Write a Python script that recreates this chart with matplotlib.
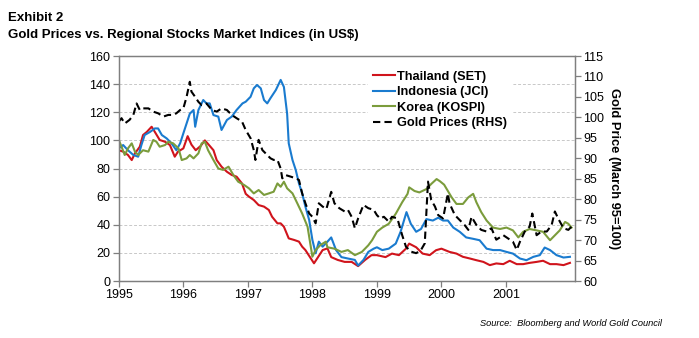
import numpy as np
import matplotlib
matplotlib.use("Agg")
import matplotlib.pyplot as plt

plt.rcParams['font.family'] = ['Liberation Sans', 'DejaVu Sans']

## Data (x = months since Jan 1995) ##
thai = [(0, 93), (0.8, 92), (1.7, 89.6), (2.4, 86), (3.0, 90.8), (3.9, 95.5), (4.5, 103.8),
        (5.2, 106), (6.1, 109.7), (6.7, 106), (7.6, 100.3), (8.6, 99), (9.5, 96.7), (10.4, 88.4),
        (11.0, 92), (12.0, 94.3), (12.8, 103), (13.5, 97), (14.3, 93), (15.2, 96), (16.0, 100),
        (16.7, 97), (17.6, 93), (18.2, 86), (19.1, 81.3), (20.1, 77.7), (21.0, 75.4), (21.9, 74.2),
        (22.9, 69.4), (23.6, 62), (24.2, 60), (25.1, 57.6), (26.0, 54), (27.0, 52.9), (27.9, 50.5),
        (28.5, 45.7), (29.5, 41), (30.1, 41), (30.7, 38.6), (31.6, 30.3), (32.6, 29.2), (33.5, 28),
        (34.1, 24.4), (34.7, 22), (35.7, 16.1), (36.3, 12.6), (36.9, 16.1), (37.9, 22), (38.8, 23.2),
        (39.5, 17), (40.7, 15), (42.0, 13.6), (43.3, 13.6), (44.5, 10.6), (45.8, 15), (47.0, 18.4),
        (48.0, 18.4), (49.6, 17), (50.8, 19.5), (52.1, 18.4), (53.4, 23), (54.0, 26.6), (55.3, 24),
        (56.5, 19.5), (57.8, 18.4), (59.0, 21.9), (60.0, 23), (61.5, 20.7), (62.8, 19.5), (64.0, 17.2),
        (65.3, 16), (66.5, 14.8), (67.8, 13.6), (69.0, 11.3), (70.2, 12.5), (71.5, 12), (72.7, 14.4),
        (74.0, 12), (75.2, 12), (76.4, 12.9), (77.7, 13.6), (78.9, 14.4), (80.2, 12), (81.4, 12),
        (82.7, 11.3), (83.9, 12.9)]

indo = [(0, 94.3), (0.8, 96.7), (1.7, 93), (2.7, 89.6), (3.6, 88.4), (4.2, 96.7), (4.8, 103.8),
        (5.8, 106), (6.7, 108.5), (7.3, 108.5), (8.0, 103.8), (8.9, 101.4), (9.8, 97.9), (10.7, 93),
        (11.4, 97.9), (12.0, 105), (12.6, 112), (13.2, 119), (13.9, 121.6), (14.2, 109.7),
        (14.8, 121.6), (15.7, 128.7), (16.3, 126.3), (16.9, 126.3), (17.6, 118), (18.5, 116.9),
        (19.1, 107.4), (20.1, 114.5), (21.0, 116.9), (21.9, 121.6), (23.0, 126.3), (23.6, 127.5),
        (24.5, 131), (25.1, 137), (25.7, 139.4), (26.4, 137), (27.0, 128.7), (27.6, 126.3),
        (28.2, 130), (29.2, 135.8), (30.1, 143), (30.7, 138), (31.3, 119), (31.6, 97.9), (32.3, 86),
        (32.9, 79), (33.5, 69.4), (34.1, 62.3), (34.7, 52.9), (35.4, 43.4), (36.0, 29.2),
        (36.6, 19.7), (37.2, 28), (37.9, 24.4), (38.8, 28), (39.5, 31), (40.4, 22), (41.4, 17),
        (42.6, 16), (43.9, 15), (44.5, 11), (45.5, 15), (46.4, 20.7), (47.4, 23), (48.0, 24),
        (49.0, 22), (50.2, 23), (51.5, 26.6), (52.4, 35), (53.5, 49), (54.3, 40.7), (55.3, 35),
        (56.2, 37), (57.2, 44), (58.4, 43), (59.4, 45), (60.3, 43), (61.2, 43), (62.2, 38),
        (63.4, 35), (64.6, 31), (65.9, 30), (67.1, 29), (68.4, 23), (69.6, 22), (70.9, 22),
        (72.1, 20.7), (73.3, 19.5), (74.6, 16), (75.8, 14.8), (77.1, 17.2), (78.3, 18.4),
        (79.2, 23.8), (80.2, 22), (81.4, 18.4), (82.7, 16.7), (83.9, 17.2)]

korea = [(0, 100.3), (0.5, 95.5), (1.1, 89.6), (1.7, 94.3), (2.4, 97.9), (3.0, 92), (3.6, 89.6),
         (4.5, 93), (5.5, 92), (6.4, 100.3), (7.0, 99), (7.6, 95.5), (8.6, 96.7), (9.2, 99),
         (10.1, 97.9), (11.1, 94.3), (11.7, 86), (12.6, 87.2), (13.2, 89.6), (13.9, 87.2),
         (14.8, 90.8), (15.4, 97.9), (16.0, 99), (16.6, 93), (17.6, 86), (18.5, 80), (19.4, 79),
         (20.4, 81.3), (21.3, 75.4), (22.2, 70.6), (23.3, 68.3), (24.2, 65.9), (25.1, 62.3),
         (26.0, 64.7), (27.0, 61.2), (27.9, 62.3), (28.8, 63.5), (29.5, 69.4), (30.1, 67),
         (30.7, 70.6), (31.3, 65.9), (32.3, 62.3), (33.2, 55.2), (34.1, 48), (35.1, 38.6),
         (35.7, 24.4), (36.0, 17.3), (36.6, 22), (37.5, 25.6), (38.5, 28), (38.8, 24), (40.1, 23),
         (41.4, 20.7), (42.6, 22), (43.9, 18.4), (45.2, 20.7), (46.4, 25.4), (47.1, 29), (48.0, 35),
         (49.0, 38), (50.2, 40.7), (51.5, 47.8), (52.7, 56), (53.7, 62), (54.0, 66.6), (55.0, 64),
         (55.9, 63), (57.2, 65.4), (58.1, 69), (59.1, 72.5), (59.7, 71), (60.5, 68.5), (61.2, 64),
         (61.9, 59.5), (62.8, 54.8), (64.0, 54.8), (65.0, 59.5), (65.9, 62), (66.5, 56), (67.4, 49),
         (68.4, 43), (69.6, 38), (70.9, 37), (72.1, 38), (73.3, 36), (74.3, 31), (75.2, 35),
         (76.4, 37), (77.7, 36), (78.9, 35), (80.2, 29), (81.1, 32.5), (82.0, 36), (83.0, 42),
         (83.6, 40.7), (84.2, 38)]

gold = [(0, 99), (0.5, 99.8), (1.1, 98.5), (2.0, 99.4), (2.7, 100.6), (3.3, 103.4), (3.9, 101.8),
        (4.5, 102.2), (5.5, 102.2), (6.4, 101.4), (7.3, 101), (8.3, 100.2), (9.2, 100.6),
        (10.1, 100.6), (10.7, 101), (11.4, 101.8), (12.0, 102.2), (12.6, 105), (13.2, 108.7),
        (13.5, 106.3), (14.2, 105), (14.8, 103.8), (15.4, 103), (16.3, 103.4), (17.3, 101.8),
        (18.2, 101.4), (19.1, 102.2), (20.1, 101.8), (21.0, 100.6), (21.9, 99.8), (22.9, 99),
        (23.6, 96.9), (24.5, 94.9), (25.1, 92), (25.4, 89.6), (26.0, 94.5), (26.7, 92),
        (27.3, 91.2), (28.2, 90), (28.8, 89.6), (29.5, 89.6), (30.1, 87.5), (30.4, 85.1),
        (31.0, 85.9), (32.0, 85.5), (32.9, 85.1), (33.5, 84.7), (34.1, 81.4), (34.7, 79),
        (35.4, 76.5), (36.0, 75.7), (36.6, 74.1), (37.2, 79), (37.9, 78.2), (38.6, 77.6),
        (39.5, 81.8), (40.1, 79), (41.0, 77.8), (42.0, 77), (42.6, 77.4), (43.3, 75.7),
        (43.9, 72.9), (44.5, 75.3), (45.5, 78.6), (46.4, 77.8), (47.4, 77.4), (48.0, 76.1),
        (48.6, 75.3), (49.3, 75.7), (50.2, 74.5), (50.8, 75.7), (51.8, 75.3), (52.7, 71.2),
        (53.4, 68.4), (54.3, 67.2), (55.3, 66.8), (56.2, 67.6), (56.9, 69.2), (57.5, 84.3),
        (58.1, 79.8), (58.8, 78.2), (59.4, 76.1), (60.3, 75.3), (61.2, 81.4), (61.5, 79),
        (62.5, 76.1), (63.4, 74.9), (64.3, 73.7), (65.0, 72.5), (65.6, 75.7), (66.5, 73.7),
        (67.4, 72.5), (68.4, 72.1), (69.3, 72.9), (70.2, 70.1), (71.5, 71.2), (72.4, 70.4),
        (73.3, 69.6), (74.0, 67.6), (74.6, 69.6), (75.5, 72.1), (76.4, 73.3), (76.9, 76.5),
        (77.7, 71.2), (78.6, 72.1), (79.6, 72.1), (80.5, 73.7), (81.1, 77), (81.7, 75.3),
        (82.7, 72.9), (83.6, 72.5), (84.2, 73.3)]

years = [1995, 1996, 1997, 1998, 1999, 2000, 2001]
left_ticks = np.arange(0, 161, 20)
right_ticks = np.arange(60, 116, 5)

def split(series):
    arr = np.array(series)
    return 1995 + arr[:, 0] / 12, arr[:, 1]

red, blue, green = '#d0141c', '#1a7bcf', '#7b9c3c'
edge = '#7f7f7f'

fig = plt.figure(figsize=(6.99, 3.38), dpi=100)
ax = fig.add_axes([0.170, 0.1686, 0.6526, 0.6657])
ax2 = ax.twinx()

x, y = split(thai)
l1, = ax.plot(x, y, color=red, lw=1.5, label='Thailand (SET)')
x, y = split(indo)
l2, = ax.plot(x, y, color=blue, lw=1.5, label='Indonesia (JCI)')
x, y = split(korea)
l3, = ax.plot(x, y, color=green, lw=1.5, label='Korea (KOSPI)')
x, y = split(gold)
l4, = ax2.plot(x, y, color='black', lw=1.5, dashes=(3.5, 2), label='Gold Prices (RHS)')

ax.set_xlim(1995, 2002.07)
ax.set_ylim(0, 160)
ax2.set_ylim(60, 115)
ax.set_xticks(years)
ax.set_xticklabels([str(v) for v in years])
ax.set_yticks(left_ticks)
ax2.set_yticks(right_ticks)
ax.yaxis.grid(True, color='#c8c8c8', ls=(0, (3, 2)), lw=0.7)
ax.set_axisbelow(True)

for a in (ax, ax2):
    for s in a.spines.values():
        s.set_color(edge)
        s.set_linewidth(0.9)
    a.tick_params(labelsize=9, length=4, width=0.9, color=edge, pad=2)

ax2.set_ylabel('Gold Price (March 95=100)', rotation=270, fontsize=9.3,
               fontweight='bold', labelpad=11)

leg = ax2.legend(handles=[l1, l2, l3, l4], loc='upper left', bbox_to_anchor=(0.517, 0.825),
                 bbox_transform=fig.transFigure, frameon=True, fancybox=False,
                 edgecolor='white', facecolor='white', framealpha=1,
                 prop={'weight': 'bold', 'size': 9.2}, handlelength=1.7,
                 handletextpad=0.15, labelspacing=0.27, borderpad=0.4)

fig.text(0.011, 0.947, 'Exhibit 2', fontsize=9.5, fontweight='bold', va='center')
fig.text(0.011, 0.897, 'Gold Prices vs. Regional Stocks Market Indices (in US$)',
         fontsize=9.5, fontweight='bold', va='center')
fig.text(0.947, 0.043, 'Source:  Bloomberg and World Gold Council', fontsize=6.7,
         style='italic', ha='right', va='center')

fig.savefig('out.png', dpi=100)
